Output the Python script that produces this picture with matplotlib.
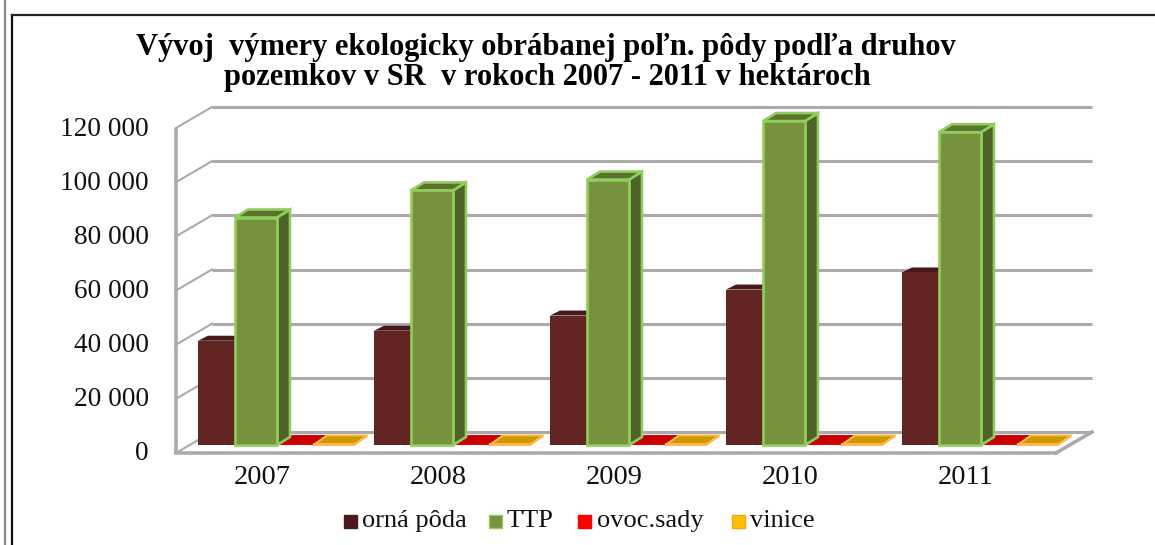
import matplotlib
matplotlib.use("Agg")
import matplotlib.pyplot as plt
from matplotlib.patches import Polygon, Rectangle
from matplotlib.lines import Line2D

years = ["2007", "2008", "2009", "2010", "2011"]
orna = [38500, 42200, 47800, 57400, 63700]
ttp = [84000, 94000, 98000, 119600, 115500]
sady = [350, 350, 350, 350, 350]
vinice = [200, 200, 200, 200, 200]
ticks = [0, 20000, 40000, 60000, 80000, 100000, 120000]
tick_labels = ["0", "20 000", "40 000", "60 000", "80 000", "100 000", "120 000"]
legend_names = ["orná pôda", "TTP", "ovoc.sady", "vinice"]
title_lines = ["Vývoj  výmery ekologicky obrábanej poľn. pôdy podľa druhov",
               "pozemkov v SR  v rokoch 2007 - 2011 v hektároch"]

W, H = 1155, 545
plt.rcParams['font.family'] = ['Liberation Serif', 'DejaVu Serif']
fig = plt.figure(figsize=(W / 100, H / 100), dpi=100)
fig.patch.set_facecolor("white")

# axes: x in category units (1 group = 176 px), y in value units (front plane)
PX_X = 176.0
PX_Y = 325.0 / 120000
L, R, B0, T0 = 176.0, 1056.0, 453.0, 128.0
ax = fig.add_axes([L / W, 1 - B0 / H, (R - L) / W, (B0 - T0) / H])
ax.set_xlim(0, (R - L) / PX_X)
ax.set_ylim(0, 120000)
ax.axis("off")

def dx(px):
    return px / PX_X

def dy(px):
    return px / PX_Y

DEPTH_X, DEPTH_Y = dx(36), dy(21)
grid_c = "#ababab"

# back wall gridlines and left wall ticks
xmax = (R - L) / PX_X
for t, lab in zip(ticks, tick_labels):
    ax.plot([DEPTH_X, xmax + DEPTH_X], [t + DEPTH_Y, t + DEPTH_Y], color=grid_c, lw=2.2,
            clip_on=False, solid_capstyle="butt", zorder=1)
    ax.plot([0, DEPTH_X], [t, t + DEPTH_Y], color=grid_c, lw=1.5, clip_on=False, zorder=1)
    ax.text(-dx(27), t - dy(1), lab, ha="right", va="center",
            fontsize=19.7, color="#111111", clip_on=False)
ax.plot([0, 0], [0, 120000], color=grid_c, lw=2.6, clip_on=False, zorder=2,
        solid_capstyle="butt")

# floor front edge and right edge
ax.plot([0, xmax], [0, 0], color=grid_c, lw=2.6, clip_on=False, zorder=2)
ax.plot([xmax, xmax + DEPTH_X], [0, DEPTH_Y], color=grid_c, lw=2.6, clip_on=False, zorder=2)

def bar3d(x, w, val, front, side, top, edge=None, z=3, d_px=(13, 8), elw=1.9):
    y0 = dy(8)
    ddx, ddy = dx(d_px[0]), dy(d_px[1])
    lw = elw if edge else 0
    ax.add_patch(Polygon([(x + w, y0), (x + w + ddx, y0 + ddy),
                          (x + w + ddx, y0 + val + ddy), (x + w, y0 + val)],
                         fc=side, ec=edge, lw=lw, zorder=z, clip_on=False))
    ax.add_patch(Polygon([(x, y0 + val), (x + w, y0 + val),
                          (x + w + ddx, y0 + val + ddy), (x + ddx, y0 + val + ddy)],
                         fc=top, ec=edge, lw=lw, zorder=z, clip_on=False))
    ax.add_patch(Rectangle((x, y0), w, val, fc=front, ec=edge, lw=lw,
                           zorder=z + 0.1, clip_on=False))

group_x0 = dx(22)
for i in range(len(years)):
    gx = group_x0 + i
    bar3d(gx, dx(37), orna[i], "#632523", "#4a1a19", "#47191a", z=3, d_px=(10, 5))
    bar3d(gx + dx(37), dx(42), ttp[i], "#76923c", "#4f6228", "#5c7030", edge="#8fce5a", z=5)
    bar3d(gx + dx(79), dx(37), sady[i], "#ff0000", "#c00000", "#c80000", z=4, d_px=(13, 9))
    bar3d(gx + dx(116), dx(40), vinice[i], "#ffc000", "#c89400", "#cc9900", edge="#ffb84d",
          z=4.5, d_px=(13, 9), elw=1.4)
    ax.text(dx(86) + i, -dy(25), years[i], ha="center", va="center", fontsize=20.5,
            color="#111111", clip_on=False)

# title, frames, legend drawn in figure pixel coordinates
def fx(p):
    return p / W

def fy(p):
    return 1 - p / H

fig.text(fx(546), fy(48), title_lines[0], ha="center", va="center", fontsize=22,
         fontweight="bold", color="black")
fig.text(fx(547), fy(78), title_lines[1], ha="center", va="center", fontsize=22,
         fontweight="bold", color="black")

fig.add_artist(Line2D([fx(12), fx(12)], [fy(15), fy(545)], color="#111111", lw=1.6))
fig.add_artist(Line2D([fx(12), fx(1155)], [fy(15), fy(15)], color="#222222", lw=1.6))
fig.add_artist(Line2D([fx(5), fx(5)], [fy(0), fy(545)], color="#888888", lw=1.6))

items = [(344, "#4a1a19", None, legend_names[0], 362),
         (489, "#76923c", "#8fce5a", legend_names[1], 507),
         (578, "#ff0000", None, legend_names[2], 597),
         (732, "#ffc000", "#ffa500", legend_names[3], 750)]
for x, c, e, name, tx in items:
    fig.add_artist(Rectangle((fx(x), fy(528)), 13 / W, 13 / H, transform=fig.transFigure,
                             fc=c, ec=e if e else c, lw=1.0))
    fig.text(fx(tx), fy(521), name, ha="left", va="center", fontsize=19, color="#111111")

fig.savefig("out.png", dpi=100)
